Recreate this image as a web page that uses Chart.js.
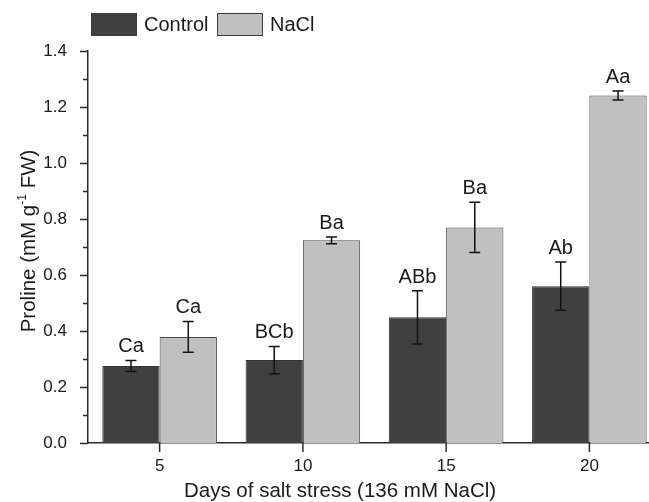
<!DOCTYPE html>
<html>
<head>
<meta charset="utf-8">
<script src="https://cdn.jsdelivr.net/npm/chart.js@4.4.0/dist/chart.umd.min.js"></script>
<style>
html,body{margin:0;padding:0;overflow:hidden;background:#fff;}
#wrap{width:661px;height:502px;}
</style>
</head>
<body>
<div id="wrap"><canvas id="c" width="661" height="502"></canvas></div>
<script>
const categories = ['5', '10', '15', '20'];
const controlMeans = [0.275, 0.296, 0.449, 0.560];
const controlErr = [0.020, 0.049, 0.095, 0.086];
const controlLetters = ['Ca', 'BCb', 'ABb', 'Ab'];
const naclMeans = [0.379, 0.724, 0.770, 1.241];
const naclErr = [0.055, 0.012, 0.090, 0.016];
const naclLetters = ['Ca', 'Ba', 'Ba', 'Aa'];
const seriesNames = ['Control', 'NaCl'];
const xTitle = 'Days of salt stress (136 mM NaCl)';

const FONT = '"Liberation Sans", Arial, sans-serif';
const TXT = '#1a1a1a';
const AX = '#2a2a2a';
const colControl = '#404040';
const colNacl = '#c0c0c0';

const decor = {
  id: 'decor',
  afterDatasetsDraw(chart) {
    const ctx = chart.ctx;
    const y = chart.scales.y;
    const errs = [controlErr, naclErr];
    const letters = [controlLetters, naclLetters];
    ctx.save();
    chart.data.datasets.forEach((ds, di) => {
      const meta = chart.getDatasetMeta(di);
      meta.data.forEach((bar, i) => {
        const v = ds.data[i], e = errs[di][i];
        const x = bar.x;
        const yt = y.getPixelForValue(v + e), yb = y.getPixelForValue(v - e);
        ctx.strokeStyle = '#111';
        ctx.lineWidth = 1.5;
        ctx.beginPath();
        ctx.moveTo(x, yt); ctx.lineTo(x, yb);
        ctx.moveTo(x - 5.5, yt); ctx.lineTo(x + 5.5, yt);
        ctx.moveTo(x - 5.5, yb); ctx.lineTo(x + 5.5, yb);
        ctx.stroke();
        ctx.fillStyle = TXT;
        ctx.font = '20px ' + FONT;
        ctx.textAlign = 'center';
        ctx.textBaseline = 'alphabetic';
        ctx.fillText(letters[di][i], x, yt - 8);
      });
    });
    ctx.restore();
  },
  afterDraw(chart) {
    const ctx = chart.ctx;
    const y = chart.scales.y, x = chart.scales.x;
    const area = chart.chartArea;
    ctx.save();
    ctx.strokeStyle = AX;
    ctx.lineWidth = 1.5;
    ctx.beginPath();
    for (let v = 0; v <= 1.4001; v += 0.1) {
      const py = Math.round(y.getPixelForValue(v)) + 0.5;
      const major = Math.round(v * 10) % 2 === 0;
      ctx.moveTo(area.left - (major ? 8 : 5), py);
      ctx.lineTo(area.left, py);
    }
    categories.forEach((c, i) => {
      const px = x.getPixelForValue(i);
      ctx.moveTo(px, area.bottom);
      ctx.lineTo(px, area.bottom + 9);
    });
    ctx.stroke();

    // x axis title
    ctx.fillStyle = TXT;
    ctx.font = '20.5px ' + FONT;
    ctx.textAlign = 'center';
    ctx.textBaseline = 'alphabetic';
    ctx.fillText(xTitle, 340, 497);

    // y axis title with superscript
    ctx.save();
    ctx.translate(35, 241);
    ctx.rotate(-Math.PI / 2);
    const p1 = 'Proline (mM g', sup = '-1', p2 = ' FW)';
    ctx.font = '20.5px ' + FONT;
    const w1 = ctx.measureText(p1).width, w3 = ctx.measureText(p2).width;
    ctx.font = '12px ' + FONT;
    const w2 = ctx.measureText(sup).width;
    const total = w1 + w2 + w3;
    let sx = -total / 2;
    ctx.textAlign = 'left';
    ctx.font = '20.5px ' + FONT;
    ctx.fillText(p1, sx, 0); sx += w1;
    ctx.font = '12px ' + FONT;
    ctx.fillText(sup, sx, -9); sx += w2;
    ctx.font = '20.5px ' + FONT;
    ctx.fillText(p2, sx, 0);
    ctx.restore();

    // legend
    const boxes = [[91, colControl], [217, colNacl]];
    chart.data.datasets.forEach((ds, i) => {
      const bx = boxes[i][0];
      ctx.fillStyle = ds.backgroundColor;
      ctx.fillRect(bx, 13, 46, 23);
      ctx.strokeStyle = '#3a3a3a';
      ctx.lineWidth = 1;
      ctx.strokeRect(bx + 0.5, 13.5, 45, 22);
      ctx.fillStyle = TXT;
      ctx.font = '20px ' + FONT;
      ctx.textAlign = 'left';
      ctx.textBaseline = 'middle';
      ctx.fillText(ds.label, bx + 53, 25);
    });
    ctx.restore();
  }
};

new Chart(document.getElementById('c'), {
  type: 'bar',
  data: {
    labels: categories,
    datasets: [
      { label: seriesNames[0], data: controlMeans, backgroundColor: colControl, borderColor: '#333333', borderWidth: 1 },
      { label: seriesNames[1], data: naclMeans, backgroundColor: colNacl, borderColor: '#4a4a4a', borderWidth: 1 }
    ]
  },
  options: {
    responsive: false,
    animation: false,
    devicePixelRatio: 1,
    layout: { padding: { top: 51, right: 0, left: 0, bottom: 0 } },
    datasets: { bar: { categoryPercentage: 0.8, barPercentage: 1.0, borderSkipped: 'bottom' } },
    plugins: { legend: { display: false }, tooltip: { enabled: false } },
    scales: {
      x: {
        offset: true,
        grid: { display: false },
        border: { display: true, color: AX, width: 1.5 },
        ticks: { color: TXT, font: { family: FONT, size: 17 }, padding: 5, maxRotation: 0 },
        afterFit(s) { s.height = 59; }
      },
      y: {
        min: 0, max: 1.4,
        grid: { display: false },
        border: { display: true, color: AX, width: 1.5 },
        ticks: { stepSize: 0.2, color: TXT, font: { family: FONT, size: 17 }, padding: 13,
                 callback: v => Number(v).toFixed(1) },
        afterFit(s) { s.width = 88; }
      }
    }
  },
  plugins: [decor]
});
</script>
</body>
</html>
